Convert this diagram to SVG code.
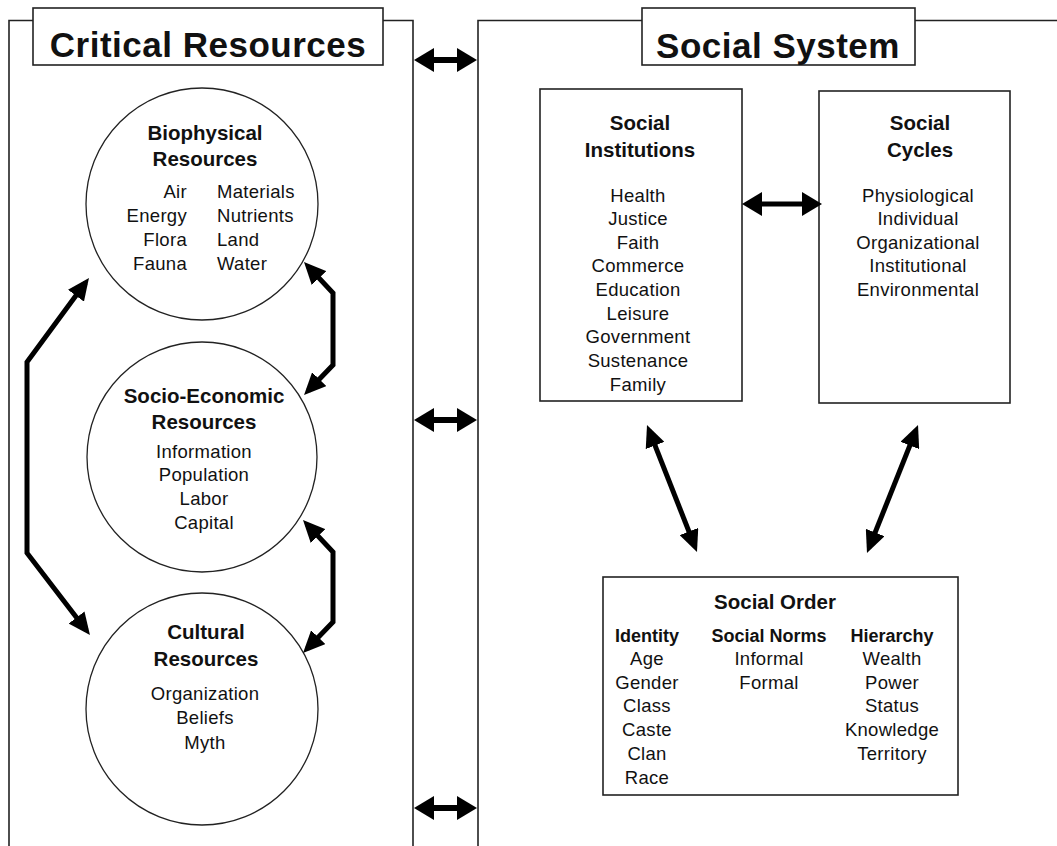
<svg xmlns="http://www.w3.org/2000/svg" width="1057" height="846" viewBox="0 0 1057 846">
<defs>
<style>
.frame{fill:none;stroke:#222;stroke-width:1.6}
.box{fill:#fff;stroke:#222;stroke-width:1.6}
.circ{fill:#fff;stroke:#222;stroke-width:1.3}
.t{font-family:"Liberation Sans",Arial,sans-serif;fill:#111}
.title{font-size:35px;font-weight:bold;text-anchor:middle;letter-spacing:0.5px}
.hd{font-size:20.5px;font-weight:bold;text-anchor:middle}
.ch{font-size:18px;font-weight:bold;text-anchor:middle}
.it{font-size:18.5px;text-anchor:middle;letter-spacing:0.3px}
.l{text-anchor:start}
.r{text-anchor:end}
.conn{fill:none;stroke:#000;stroke-width:5;stroke-linejoin:miter}
.wide{stroke-width:6}
</style>
<marker id="ah" markerUnits="userSpaceOnUse" viewBox="0 0 22 20" markerWidth="22" markerHeight="20" refX="16" refY="10" orient="auto-start-reverse">
<path d="M0,0 L22,10 L0,20 z" fill="#000"/>
</marker>
<marker id="hp" markerUnits="userSpaceOnUse" viewBox="0 0 20 24" markerWidth="20" markerHeight="24" refX="14" refY="12" orient="auto-start-reverse">
<path d="M0,0 L20,12 L0,24 z" fill="#000"/>
</marker>
</defs>
<rect width="1057" height="846" fill="#fff"/>

<g id="critical-resources">
<path class="frame" d="M9,850 V20.5 H413 V850"/>
<rect class="box" x="33" y="8" width="350" height="57"/>
<text class="t title" x="208" y="57">Critical Resources</text>
</g>

<g id="social-system">
<path class="frame" d="M478,850 V20.5 H1060"/>
<rect class="box" x="642" y="8" width="273" height="57"/>
<text class="t title" x="778" y="58">Social System</text>
</g>

<g id="biophysical">
<circle class="circ" cx="202" cy="204" r="116"/>
<text class="t hd" x="205" y="140">Biophysical</text>
<text class="t hd" x="205" y="166">Resources</text>
<text class="t it r" x="187" y="197.5">Air</text>
<text class="t it r" x="187" y="221.5">Energy</text>
<text class="t it r" x="187" y="245.5">Flora</text>
<text class="t it r" x="187" y="269.5">Fauna</text>
<text class="t it l" x="217" y="197.5">Materials</text>
<text class="t it l" x="217" y="221.5">Nutrients</text>
<text class="t it l" x="217" y="245.5">Land</text>
<text class="t it l" x="217" y="269.5">Water</text>
</g>

<g id="socio-economic">
<circle class="circ" cx="202" cy="457" r="115"/>
<text class="t hd" x="204" y="403">Socio-Economic</text>
<text class="t hd" x="204" y="429">Resources</text>
<text class="t it" x="204" y="457.5">Information</text>
<text class="t it" x="204" y="481">Population</text>
<text class="t it" x="204" y="504.5">Labor</text>
<text class="t it" x="204" y="529">Capital</text>
</g>

<g id="cultural">
<circle class="circ" cx="202" cy="709" r="116"/>
<text class="t hd" x="206" y="639">Cultural</text>
<text class="t hd" x="206" y="666">Resources</text>
<text class="t it" x="205" y="699.5">Organization</text>
<text class="t it" x="205" y="724">Beliefs</text>
<text class="t it" x="205" y="748.5">Myth</text>
</g>

<g id="social-institutions">
<rect class="box" x="540" y="89" width="202" height="312"/>
<text class="t hd" x="640" y="130">Social</text>
<text class="t hd" x="640" y="157">Institutions</text>
<text class="t it" x="638" y="201.5">Health</text>
<text class="t it" x="638" y="225">Justice</text>
<text class="t it" x="638" y="248.5">Faith</text>
<text class="t it" x="638" y="272">Commerce</text>
<text class="t it" x="638" y="296">Education</text>
<text class="t it" x="638" y="319.5">Leisure</text>
<text class="t it" x="638" y="343">Government</text>
<text class="t it" x="638" y="367">Sustenance</text>
<text class="t it" x="638" y="391">Family</text>
</g>

<g id="social-cycles">
<rect class="box" x="819" y="91" width="191" height="312"/>
<text class="t hd" x="920" y="130">Social</text>
<text class="t hd" x="920" y="157">Cycles</text>
<text class="t it" x="918" y="201.5">Physiological</text>
<text class="t it" x="918" y="225">Individual</text>
<text class="t it" x="918" y="248.5">Organizational</text>
<text class="t it" x="918" y="272">Institutional</text>
<text class="t it" x="918" y="296">Environmental</text>
</g>

<g id="social-order">
<rect class="box" x="603" y="577" width="355" height="218"/>
<text class="t hd" x="775" y="609">Social Order</text>
<text class="t ch" x="647" y="641.5">Identity</text>
<text class="t ch" x="769" y="641.5">Social Norms</text>
<text class="t ch" x="892" y="641.5">Hierarchy</text>
<text class="t it" x="647" y="664.5">Age</text>
<text class="t it" x="647" y="688.5">Gender</text>
<text class="t it" x="647" y="711.5">Class</text>
<text class="t it" x="647" y="736">Caste</text>
<text class="t it" x="647" y="759.5">Clan</text>
<text class="t it" x="647" y="784">Race</text>
<text class="t it" x="769" y="664.5">Informal</text>
<text class="t it" x="769" y="688.5">Formal</text>
<text class="t it" x="892" y="664.5">Wealth</text>
<text class="t it" x="892" y="688.5">Power</text>
<text class="t it" x="892" y="711.5">Status</text>
<text class="t it" x="892" y="736">Knowledge</text>
<text class="t it" x="892" y="759.5">Territory</text>
</g>

<g id="connectors">
<path class="conn wide" d="M420,60 H471" marker-start="url(#hp)" marker-end="url(#hp)"/>
<path class="conn wide" d="M420,420 H471" marker-start="url(#hp)" marker-end="url(#hp)"/>
<path class="conn wide" d="M420,808 H471" marker-start="url(#hp)" marker-end="url(#hp)"/>
<path class="conn" d="M748,204 H816" marker-start="url(#hp)" marker-end="url(#hp)"/>
<path class="conn" d="M85.4,282.8 L27,362 L27,553 L86.3,630.2" marker-start="url(#ah)" marker-end="url(#ah)"/>
<path class="conn" d="M308.1,266.4 L333,293 L333,365 L308.2,390.7" marker-start="url(#ah)" marker-end="url(#ah)"/>
<path class="conn" d="M307.1,524.4 L333,552 L333,622 L307.2,648.7" marker-start="url(#ah)" marker-end="url(#ah)"/>
<path class="conn" d="M649.2,430.6 L694.8,546.4" marker-start="url(#ah)" marker-end="url(#ah)"/>
<path class="conn" d="M915.8,430.6 L869.2,547.4" marker-start="url(#ah)" marker-end="url(#ah)"/>
</g>
</svg>
